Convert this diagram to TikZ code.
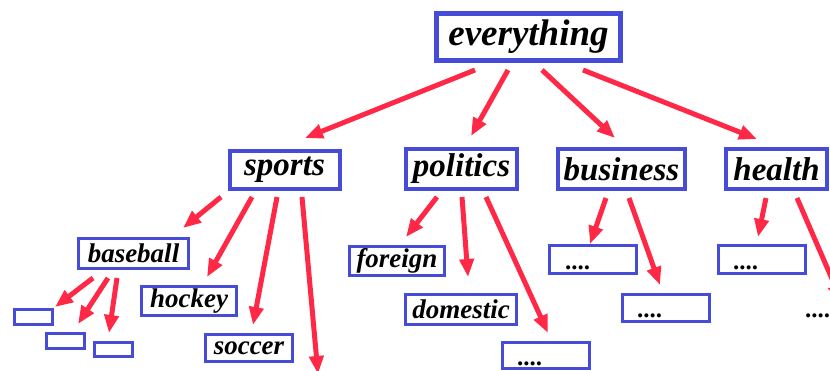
\documentclass[tikz,border=0pt]{standalone}
\usepackage{fontspec}
\setmainfont{Liberation Serif}
\usetikzlibrary{arrows.meta}
\definecolor{boxblue}{RGB}{70,76,215}
\definecolor{arrred}{RGB}{255,40,70}
\begin{document}
\begin{tikzpicture}[x=1pt,y=-1pt,
 bx/.style={draw=boxblue, fill=white, inner sep=0pt},
 big/.style={bx, line width=5pt, font=\fontsize{37}{40}\selectfont\bfseries\itshape},
 mid/.style={bx, line width=4pt, font=\fontsize{33}{36}\selectfont\bfseries\itshape},
 sml/.style={bx, line width=3pt, font=\fontsize{27}{30}\selectfont\bfseries\itshape},
 dotbox/.style={bx, line width=3pt},
 dots/.style={font=\fontsize{25}{28}\selectfont\bfseries, inner sep=0pt, anchor=base west},
 arr/.style={draw=arrred, line width=5pt, -{Triangle[length=18pt,width=14pt]}}
]
\useasboundingbox (0,0) rectangle (830,370);
\clip (0,0) rectangle (830,370);

% level 0
\node[big, minimum width=184pt, minimum height=47pt] (top) at (528.5,37) {everything};
% level 1
\node[mid, minimum width=110pt, minimum height=38pt] (sports) at (284.5,169.5) {sports};
\node[mid, minimum width=111pt, minimum height=40pt] (politics) at (461.5,169) {politics};
\node[mid, minimum width=127pt, minimum height=40pt] (business) at (621.5,169) {business};
\node[mid, minimum width=101pt, minimum height=40pt] (health) at (776.5,169) {health};
% level 2
\node[sml, minimum width=110pt, minimum height=30pt] (baseball) at (133.5,253.5) {baseball};
\node[sml, minimum width=95pt, minimum height=29pt] (hockey) at (189,301) {hockey};
\node[sml, minimum width=87pt, minimum height=27pt] (soccer) at (249,348) {soccer};
\node[dotbox, minimum width=38pt, minimum height=15pt] (s1) at (33.5,317) {};
\node[dotbox, minimum width=38pt, minimum height=15pt] (s2) at (65.5,341) {};
\node[dotbox, minimum width=38pt, minimum height=14pt] (s3) at (113.5,349.5) {};
\node[sml, minimum width=95pt, minimum height=29pt] (foreign) at (397,261) {foreign};
\node[sml, minimum width=111pt, minimum height=30pt] (domestic) at (461,309.5) {domestic};
\node[dotbox, minimum width=87pt, minimum height=26pt] (pd) at (545.5,355) {};
\node[dotbox, minimum width=87pt, minimum height=28pt] (bd1) at (593,259.5) {};
\node[dotbox, minimum width=87pt, minimum height=27pt] (bd2) at (666,308) {};
\node[dotbox, minimum width=87pt, minimum height=28pt] (hd) at (762,259.5) {};
% dots
\node[dots] (pdt) at (517,365) {....};
\node[dots] (bd1t) at (565,269) {....};
\node[dots] (bd2t) at (637,317) {....};
\node[dots] (hdt) at (733,269) {....};
\node[dots] (hxt) at (805,317) {....};

\coordinate (sportsend) at (318,374);
\coordinate (healthend) at (842,302);

% arrows
\draw[arr] ([shift={(-53.5,33)}]top.center) -- ([shift={(20.5,-31.5)}]sports.center);
\draw[arr] ([shift={(-20.5,33)}]top.center) -- ([shift={(9.5,-33)}]politics.center);
\draw[arr] ([shift={(13.5,33)}]top.center) -- ([shift={(-6.5,-31)}]business.center);
\draw[arr] ([shift={(54.5,33)}]top.center) -- ([shift={(-19.5,-30)}]health.center);

\draw[arr] ([shift={(-63.5,27.5)}]sports.center) -- ([shift={(49.5,-25.5)}]baseball.center);
\draw[arr] ([shift={(-32.5,27.5)}]sports.center) -- ([shift={(18,-24)}]hockey.center);
\draw[arr] ([shift={(-7.5,27.5)}]sports.center) -- ([shift={(4,-23)}]soccer.center);
\draw[arr] ([shift={(17.5,27.5)}]sports.center) -- (sportsend);

\draw[arr] ([shift={(-40.5,24.5)}]baseball.center) -- ([shift={(21.5,-10)}]s1.center);
\draw[arr] ([shift={(-25.5,24.5)}]baseball.center) -- ([shift={(12.5,-17)}]s2.center);
\draw[arr] ([shift={(-16.5,24.5)}]baseball.center) -- ([shift={(-4.5,-16.5)}]s3.center);

\draw[arr] ([shift={(-24.5,28)}]politics.center) -- ([shift={(9,-24)}]foreign.center);
\draw[arr] ([shift={(0.5,28)}]politics.center) -- ([shift={(7,-32.5)}]domestic.center);
\draw[arr] ([shift={(24.5,28)}]politics.center) -- ([shift={(2.5,-22)}]pd.center);

\draw[arr] ([shift={(-15.5,29)}]business.center) -- ([shift={(-3,-15.5)}]bd1.center);
\draw[arr] ([shift={(7.5,29)}]business.center) -- ([shift={(-6,-23)}]bd2.center);

\draw[arr] ([shift={(-10.5,29)}]health.center) -- ([shift={(-4,-22.5)}]hd.center);
\draw[arr] ([shift={(20.5,29)}]health.center) -- (healthend);
\end{tikzpicture}
\end{document}
